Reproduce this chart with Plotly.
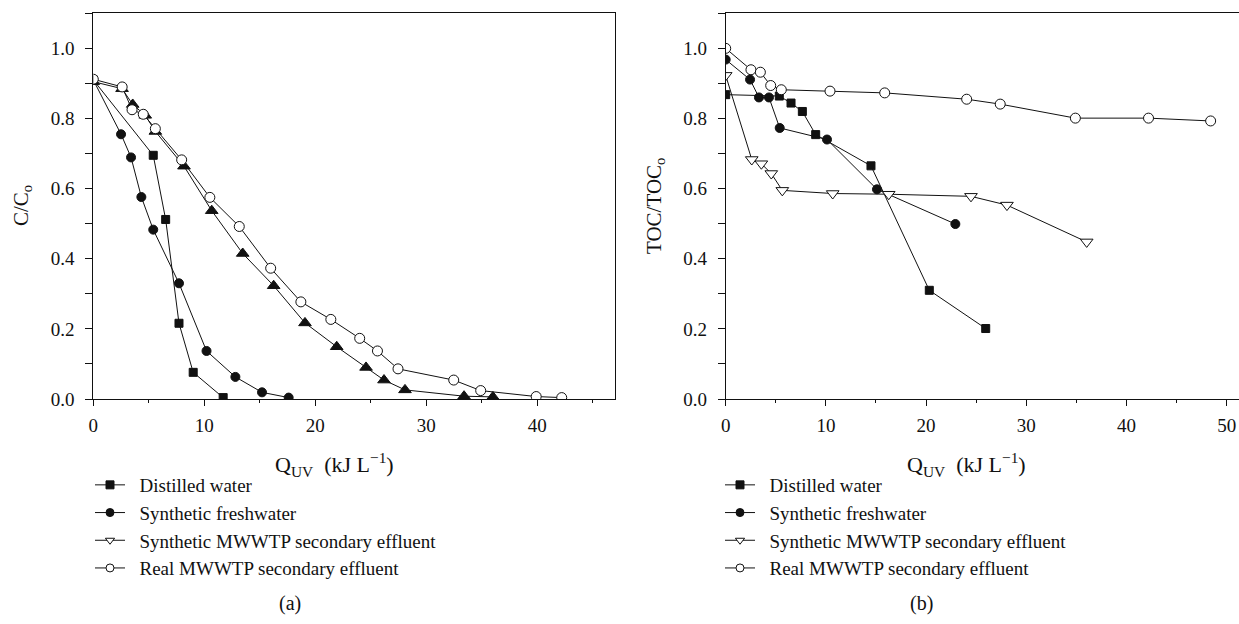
import plotly.graph_objects as go

# ---------------- data: panel (a) C/Co vs Q_UV ----------------
a_dist_x = [0, 5.4, 6.52, 7.72, 9.0, 11.7]
a_dist_y = [0.91, 0.695, 0.512, 0.216, 0.076, 0.004]

a_fresh_x = [0, 2.5, 3.4, 4.33, 5.4, 7.72, 10.2, 12.8, 15.2, 17.6]
a_fresh_y = [0.91, 0.755, 0.689, 0.576, 0.483, 0.33, 0.137, 0.063, 0.019, 0.004]

a_synth_x = [0, 2.59, 3.55, 4.68, 5.59, 8.17, 10.67, 13.46, 16.25, 19.07,
             21.93, 24.57, 26.19, 28.08, 33.4, 36.0]
a_synth_y = [0.905, 0.885, 0.84, 0.809, 0.763, 0.664, 0.537, 0.415, 0.323, 0.217,
             0.149, 0.09, 0.054, 0.026, 0.008, 0.006]

a_real_x = [0, 2.6, 3.49, 4.5, 5.59, 7.96, 10.5, 13.15, 15.98, 18.7,
            21.4, 24.0, 25.6, 27.45, 32.47, 34.9, 39.9, 42.2]
a_real_y = [0.912, 0.89, 0.825, 0.812, 0.771, 0.682, 0.575, 0.492, 0.373, 0.277,
            0.227, 0.173, 0.137, 0.086, 0.054, 0.024, 0.007, 0.004]

# ---------------- data: panel (b) TOC/TOCo vs Q_UV ----------------
b_dist_x = [0, 5.35, 6.52, 7.65, 8.98, 14.5, 20.32, 25.95]
b_dist_y = [0.868, 0.864, 0.844, 0.82, 0.754, 0.665, 0.31, 0.201]

b_fresh_x = [0, 2.43, 3.32, 4.32, 5.39, 10.11, 15.1, 22.92]
b_fresh_y = [0.968, 0.911, 0.86, 0.86, 0.773, 0.74, 0.598, 0.499]

b_synth_x = [0, 2.6, 3.56, 4.55, 5.65, 10.68, 16.27, 24.48, 28.07, 36.03]
b_synth_y = [0.923, 0.683, 0.671, 0.643, 0.595, 0.586, 0.584, 0.578, 0.553, 0.448]

b_real_x = [0, 2.52, 3.46, 4.49, 5.55, 10.41, 15.87, 24.05, 27.4, 34.9, 42.2, 48.4]
b_real_y = [1.0, 0.939, 0.932, 0.894, 0.882, 0.878, 0.873, 0.855, 0.841, 0.801, 0.801, 0.793]

series_names = ["Distilled water", "Synthetic freshwater",
                "Synthetic MWWTP secondary effluent", "Real MWWTP secondary effluent"]
x_ticks_a = [0, 10, 20, 30, 40]
x_ticks_b = [0, 10, 20, 30, 40, 50]
y_ticks = [0.0, 0.2, 0.4, 0.6, 0.8, 1.0]

FONT = "Liberation Serif"
BLACK = "#111111"

W, H = 1239, 624
def px(x):
    return x / W
def py(y):
    return (H - y) / H

fig = go.Figure()

line = dict(color=BLACK, width=1)

def add(x, y, symbol, size, xa, ya, fill=BLACK):
    fig.add_trace(go.Scatter(
        x=x, y=y, mode="lines+markers", xaxis=xa, yaxis=ya, showlegend=False,
        line=line,
        marker=dict(symbol=symbol, size=size, color=fill,
                    line=dict(color=BLACK, width=1))))

# panel (a)
add(a_dist_x, a_dist_y, "square", 8, "x", "y")
add(a_fresh_x, a_fresh_y, "circle", 9, "x", "y")
add(a_synth_x, a_synth_y, "triangle-up", 11, "x", "y")
add(a_real_x, a_real_y, "circle", 10, "x", "y", fill="white")

# panel (b)
add(b_dist_x, b_dist_y, "square", 8, "x2", "y2")
add(b_fresh_x, b_fresh_y, "circle", 9, "x2", "y2")
add(b_synth_x, b_synth_y, "triangle-down", 11, "x2", "y2", fill="white")
add(b_real_x, b_real_y, "circle", 10, "x2", "y2", fill="white")

# legend entries (one legend per panel)
leg_syms = [("square", BLACK), ("circle", BLACK), ("triangle-down", "white"), ("circle", "white")]
for lg in ["legend", "legend2"]:
    for name, (sym, fill) in zip(series_names, leg_syms):
        fig.add_trace(go.Scatter(
            x=[None], y=[None], mode="lines+markers", name="\u00a0\u00a0" + name, legend=lg,
            line=line,
            marker=dict(symbol=sym, size=8, color=fill, line=dict(color=BLACK, width=1))))

axis_common = dict(
    showline=True, linecolor=BLACK, linewidth=1, showgrid=False, zeroline=False,
    ticks="outside", tickcolor=BLACK, tickwidth=1, automargin=False,
    tickfont=dict(family=FONT, size=19, color=BLACK),
)

leg_common = dict(xanchor="left", yanchor="top", bgcolor="rgba(0,0,0,0)", borderwidth=0,
                  tracegroupgap=0, itemwidth=30,
                  font=dict(family=FONT, size=19, color=BLACK))

fig.update_layout(
    width=W, height=H,
    margin=dict(l=0, r=0, t=0, b=0, autoexpand=False),
    paper_bgcolor="white", plot_bgcolor="white",
    font=dict(family=FONT, color=BLACK),
    xaxis=dict(domain=[px(93.3), px(615)], range=[0, 47], tickvals=x_ticks_a,
               ticklen=6, mirror=True, anchor="y", ticklabelstandoff=3,
               minor=dict(dtick=5, tick0=0, ticks="outside", ticklen=3, tickcolor=BLACK),
               **axis_common),
    yaxis=dict(domain=[py(399), py(13.3)], range=[0, 1.1], tickvals=y_ticks,
               tickformat=".1f", ticklen=7, mirror=True, anchor="x", ticklabelstandoff=7,
               minor=dict(dtick=0.1, tick0=0, ticks="outside", ticklen=7, tickcolor=BLACK),
               **axis_common),
    xaxis2=dict(domain=[px(725.7), 1.0], range=[0, 51.23], tickvals=x_ticks_b,
                ticklen=6, mirror=True, anchor="y2", ticklabelstandoff=3,
                minor=dict(dtick=5, tick0=0, ticks="outside", ticklen=3, tickcolor=BLACK),
                **axis_common),
    yaxis2=dict(domain=[py(399), py(13.3)], range=[0, 1.1], tickvals=y_ticks,
                tickformat=".1f", ticklen=7, mirror=False, anchor="x2", ticklabelstandoff=7,
                minor=dict(dtick=0.1, tick0=0, ticks="outside", ticklen=7, tickcolor=BLACK),
                **axis_common),
    legend=dict(x=px(90), y=py(466), **leg_common),
    legend2=dict(x=px(720), y=py(466), **leg_common),
)

def ann(text, x, y, angle=0, size=21):
    fig.add_annotation(text=text, x=px(x), y=py(y), xref="paper", yref="paper",
                       xanchor="center", yanchor="middle", textangle=angle,
                       showarrow=False, font=dict(family=FONT, size=size, color=BLACK))

ann("C/C<sub>o</sub>", 22, 206, -90)
ann("TOC/TOC<sub>o</sub>", 655, 206, -90)
xtitle = "Q<sub>UV</sub>\u00a0\u00a0(kJ\u00a0L<sup>\u22121</sup>)"
ann(xtitle, 334, 464, size=22)
ann(xtitle, 966, 464, size=22)
ann("(a)", 290, 603, size=20)
ann("(b)", 921, 603, size=20)

fig.write_html("out.html")
